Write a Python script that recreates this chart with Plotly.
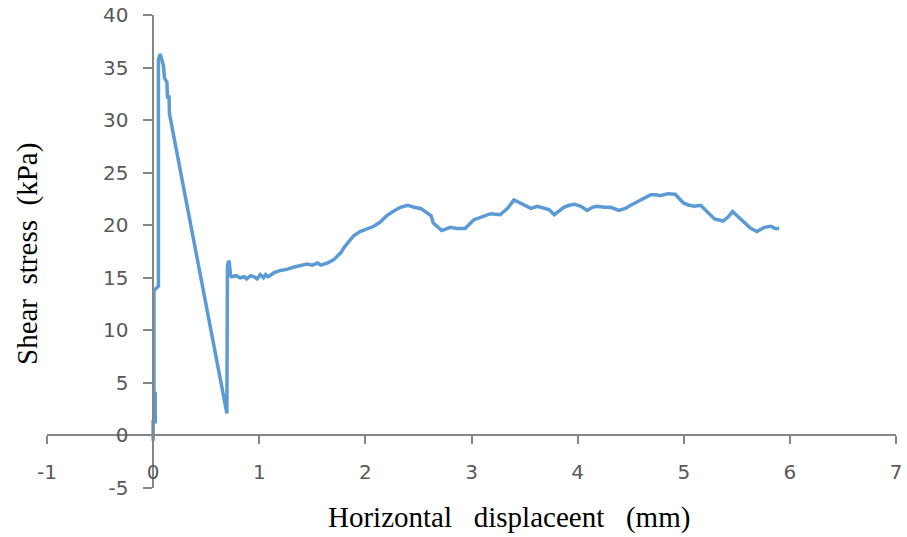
import plotly.graph_objects as go

# Horizontal displacement (mm) and shear stress (kPa)
x_disp = [0.000, 0.000, 0.020, 0.020, 0.008, 0.008, 0.030, 0.050, 0.050, 0.058, 0.066, 0.075,
          0.090, 0.097, 0.107, 0.120, 0.130, 0.135, 0.150, 0.154,
          0.690, 0.695, 0.700, 0.710, 0.717, 0.724, 0.730, 0.740,
          0.78, 0.82, 0.86, 0.88, 0.92, 0.95, 0.98, 1.01, 1.04, 1.06, 1.08, 1.10, 1.14, 1.20,
          1.26, 1.32, 1.38, 1.45, 1.50, 1.55, 1.58, 1.64, 1.70, 1.73, 1.77, 1.80, 1.85, 1.89,
          1.95, 2.02, 2.08, 2.14, 2.20, 2.26, 2.33, 2.40, 2.46, 2.52, 2.58, 2.62, 2.64, 2.68,
          2.72, 2.75, 2.80, 2.86, 2.94, 3.02, 3.10, 3.18, 3.27, 3.34, 3.40, 3.44, 3.48, 3.56,
          3.62, 3.67, 3.73, 3.78, 3.83, 3.87, 3.92, 3.97, 4.03, 4.09, 4.14, 4.18, 4.25, 4.31,
          4.39, 4.45, 4.50, 4.59, 4.64, 4.69, 4.74, 4.78, 4.85, 4.92, 4.97, 5.00, 5.05, 5.10,
          5.16, 5.22, 5.29, 5.37, 5.42, 5.46, 5.50, 5.54, 5.59, 5.63, 5.69, 5.76, 5.82, 5.86, 5.90]
shear = [-0.5, 1.3, 1.3, 4.0, 4.0, 13.8, 14.0, 14.2, 35.7, 36.2, 36.3, 36.0,
         35.4, 35.2, 34.0, 33.8, 33.6, 32.2, 32.2, 30.6,
         2.1, 2.1, 16.0, 16.6, 16.5, 15.9, 15.2, 15.1,
         15.2, 15.0, 15.1, 14.9, 15.2, 15.1, 14.9, 15.3, 15.0, 15.3, 15.1, 15.2, 15.5, 15.7,
         15.8, 16.0, 16.1, 16.3, 16.2, 16.4, 16.2, 16.4, 16.7, 17.0, 17.4, 17.9, 18.5, 19.0,
         19.4, 19.7, 19.9, 20.3, 20.9, 21.3, 21.7, 21.9, 21.7, 21.6, 21.2, 20.9, 20.2, 19.8,
         19.5, 19.6, 19.8, 19.7, 19.7, 20.5, 20.8, 21.1, 21.0, 21.6, 22.4, 22.2, 22.0, 21.6,
         21.8, 21.7, 21.5, 21.0, 21.4, 21.7, 21.9, 22.0, 21.8, 21.4, 21.7, 21.8, 21.7, 21.7,
         21.4, 21.6, 21.9, 22.4, 22.6, 22.9, 22.9, 22.8, 23.0, 22.95, 22.4, 22.1, 21.9, 21.8,
         21.9, 21.3, 20.6, 20.4, 20.8, 21.3, 20.9, 20.6, 20.1, 19.7, 19.4, 19.8, 19.9, 19.7, 19.7]

x_ticks = [-1, 0, 1, 2, 3, 4, 5, 6, 7]
y_ticks = [-5, 0, 5, 10, 15, 20, 25, 30, 35, 40]
x_range = [-1, 7]
y_range = [-5, 40]

axis_color = "#868686"
tick_font = dict(family="DejaVu Sans", size=20, color="#595959")
title_font = dict(family="Liberation Serif", size=29, color="#000000")

fig = go.Figure()
fig.add_trace(go.Scatter(x=x_disp, y=shear, mode="lines",
                         line=dict(color="#5B9BD5", width=3.5), showlegend=False))

x_pos = (0 - y_range[0]) / (y_range[1] - y_range[0])
y_pos = (0 - x_range[0]) / (x_range[1] - x_range[0])

fig.update_layout(
    width=907, height=537,
    margin=dict(l=47, r=11, t=15, b=49),
    plot_bgcolor="white", paper_bgcolor="white",
    xaxis=dict(range=x_range, tickvals=x_ticks, ticktext=[str(v) for v in x_ticks],
               showgrid=False, zeroline=False, showline=True, linecolor=axis_color,
               linewidth=1.5, ticks="outside", ticklen=8, tickwidth=1.5, tickcolor=axis_color,
               tickfont=tick_font, anchor="free", position=x_pos, ticklabelstandoff=11,
               automargin=False),
    yaxis=dict(range=y_range, tickvals=y_ticks, ticktext=[str(v) for v in y_ticks],
               showgrid=False, zeroline=False, showline=True, linecolor=axis_color,
               linewidth=1.5, ticks="outside", ticklen=9, tickwidth=1.5, tickcolor=axis_color,
               tickfont=tick_font, anchor="free", position=y_pos, ticklabelstandoff=11,
               automargin=False),
    annotations=[
        dict(text="Horizontal\u00a0\u00a0 displaceent\u00a0\u00a0 (mm)", xref="paper", yref="paper",
             x=(509 - 47) / 849, y=(488 - 517) / 473, xanchor="center", yanchor="middle",
             showarrow=False, font=title_font),
        dict(text="Shear\u00a0 stress\u00a0 (kPa)", xref="paper", yref="paper",
             x=(28 - 47) / 849, y=(488 - 254) / 473, xanchor="center", yanchor="middle",
             textangle=-90, showarrow=False, font=title_font),
    ],
)

fig.write_html("out.html")
